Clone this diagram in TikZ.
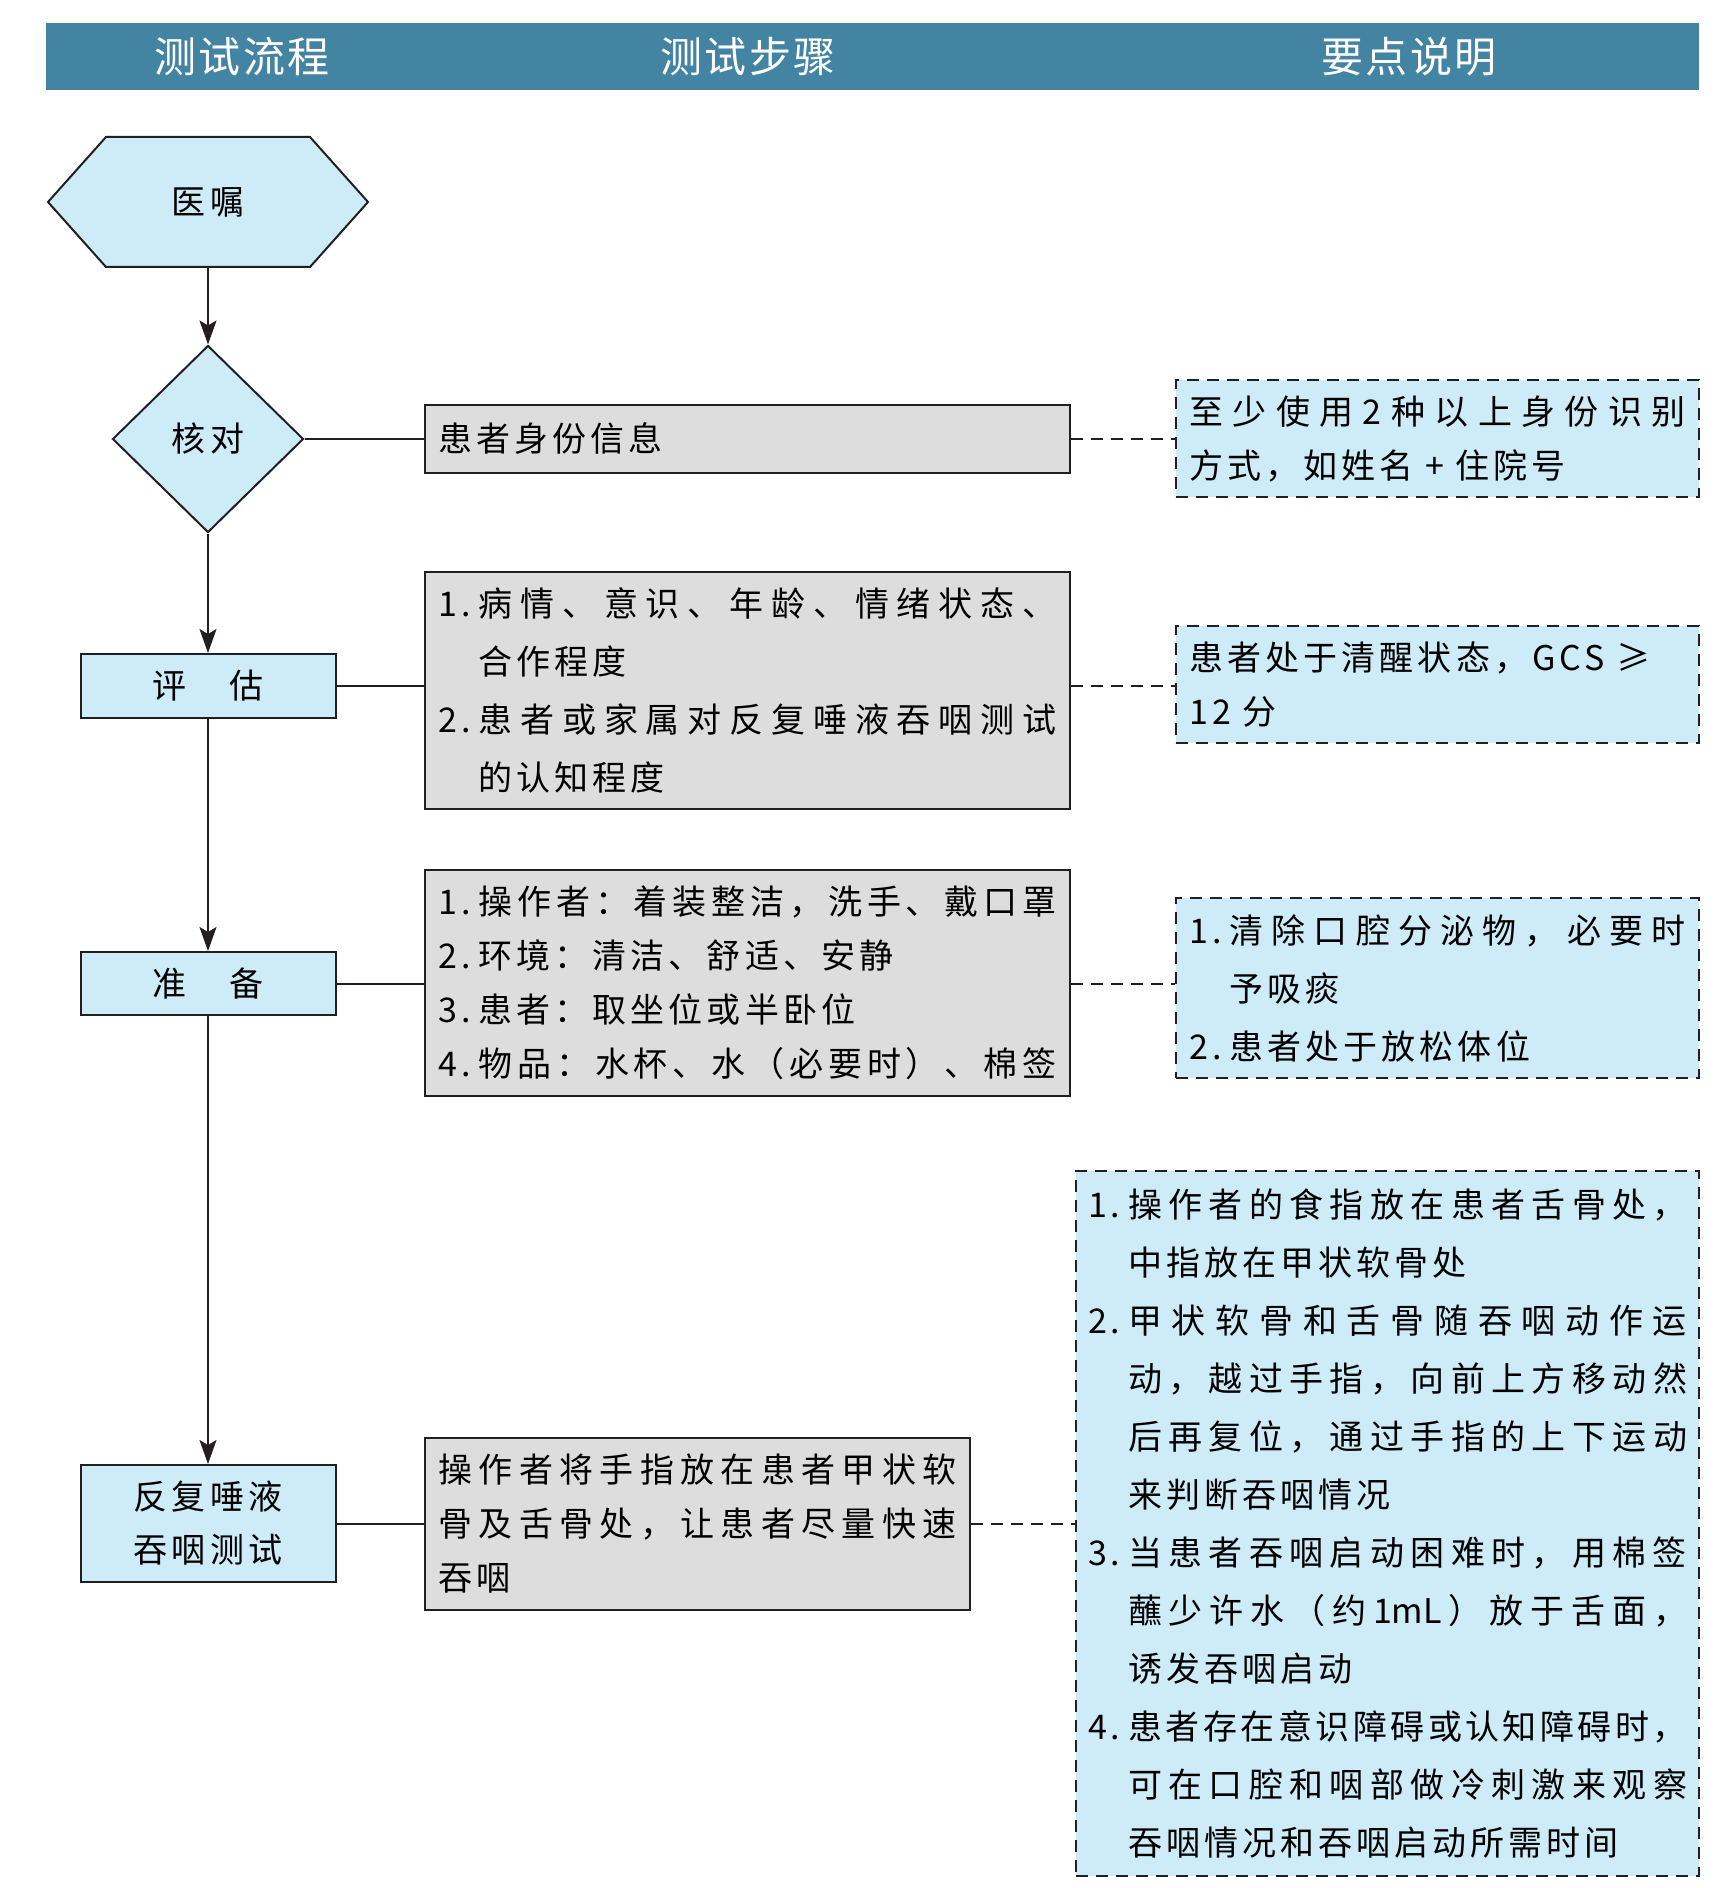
\documentclass[tikz,border=0pt]{standalone}
\usepackage{fontspec}
\setmainfont[LetterSpace=12]{Noto Sans CJK SC}
\usetikzlibrary{arrows.meta,positioning,backgrounds,shapes.geometric,calc}
\definecolor{hdr}{HTML}{4484A3}
\definecolor{lb}{HTML}{CDECF8}
\definecolor{gr}{HTML}{DDDDDD}
\definecolor{dk}{HTML}{231F20}
\newcommand{\txa}{\fontsize{17}{27}\selectfont}
\newcommand{\txb}{\fontsize{17}{29}\selectfont}
\newcommand{\xh}[1]{\makebox[20pt][l]{#1}}
\newcommand{\sj}{\hspace*{20pt}}
% justified lines: glue between the characters
\def\jzend{JZEND}
\def\jzi#1{\ifx#1\jzend\else#1\hskip0pt plus1fil\expandafter\jzi\fi}
\newcommand{\jz}[1]{\leavevmode\hbox to\hsize{\addfontfeature{LetterSpace=0}\jzi#1\jzend\unskip}}
\newcommand{\jzn}[1]{\hbox to\dimexpr\hsize-20pt\relax{\addfontfeature{LetterSpace=0}\jzi#1\jzend\unskip}}
\tikzset{
  flow/.style={draw=dk,line width=1pt,fill=lb,align=center,inner sep=0pt,font=\fontsize{17}{26.5}\selectfont},
  hexa/.style={draw=dk,line width=1pt,fill=lb},
  stepbox/.style={draw=dk,line width=1pt,fill=gr,anchor=west,align=left,inner xsep=6.75pt,inner ysep=0pt,font=\txa},
  notebox/.style={stepbox,fill=lb,dash pattern=on 6pt off 4pt},
  hdtxt/.style={text=white,font=\fontsize{21}{21}\selectfont\addfontfeature{LetterSpace=5}},
  ar/.style={-{Stealth[length=12pt,width=8.5pt,inset=2.5pt]},line width=1pt,draw=dk},
  cn/.style={line width=1pt,draw=dk},
  dl/.style={cn,dash pattern=on 6pt off 4pt},
}
\begin{document}
\begin{tikzpicture}[x=1pt,y=-1pt]
\useasboundingbox (0,0) rectangle (859,944);
% header
\fill[hdr] (23,11.5) rectangle (849.5,45);
\node[hdtxt] (h1) at (121,28.5) {测试流程};
\node[hdtxt] (h2) at (374,28.5) {测试步骤};
\node[hdtxt] (h3) at (704.5,28.5) {要点说明};

% flow column
\node[flow,draw=none,fill=none,minimum width=101pt,minimum height=64pt] (yz) at (104,101) {医嘱};
\begin{scope}[on background layer]
\draw[hexa] ([xshift=-29pt]yz.west) -- (yz.north west) -- (yz.north east) -- ([xshift=29pt]yz.east) -- (yz.south east) -- (yz.south west) -- cycle;
\end{scope}
\node[flow,diamond,minimum width=95.5pt,minimum height=93.5pt] (hd) at (104,219.5) {核对};
\node[flow,minimum width=127.5pt,minimum height=32pt] (pg) at (104,343) {评　估};
\node[flow,minimum width=127.5pt,minimum height=31.5pt] (zb) at (104,491.75) {准　备};
\node[flow,minimum width=127.5pt,minimum height=58.5pt] (cs) at (104,761.75) {反复唾液\\吞咽测试};

\draw[ar] (yz) -- (hd);
\draw[ar] (hd) -- (pg);
\draw[ar] (pg) -- (zb);
\draw[ar] (zb) -- (cs);

% steps
\node[stepbox,text width=309pt,minimum height=34pt] (s1) at (212,219.5) {患者身份信息};
\node[stepbox,text width=309pt,minimum height=118.5pt,font=\txb] (s2) at (212,345) {\xh{1.}\jzn{病情、意识、年龄、情绪状态、}\\\sj 合作程度\\\xh{2.}\jzn{患者或家属对反复唾液吞咽测试}\\\sj 的认知程度};
\node[stepbox,text width=309pt,minimum height=113pt] (s3) at (212,491.5) {\xh{1.}\jzn{操作者：着装整洁，洗手、戴口罩}\\\xh{2.}环境：清洁、舒适、安静\\\xh{3.}患者：取坐位或半卧位\\\xh{4.}\jzn{物品：水杯、水（必要时）、棉签}};
\node[stepbox,text width=259pt,minimum height=86pt] (s4) at (212,762) {\jz{操作者将手指放在患者甲状软}\\\jz{骨及舌骨处，让患者尽量快速}\\吞咽};

% notes
\node[notebox,text width=248pt,minimum height=58.5pt] (n1) at (587.5,219.25) {\jz{至少使用2种以上身份识别}\\方式，如姓名 + 住院号};
\node[notebox,text width=248pt,minimum height=58.5pt] (n2) at (587.5,342.25) {患者处于清醒状态，GCS ≥\\12 分};
\node[notebox,text width=248pt,minimum height=90pt,font=\txb] (n3) at (587.5,494) {\xh{1.}\jzn{清除口腔分泌物，必要时}\\\sj 予吸痰\\\xh{2.}患者处于放松体位};
\node[notebox,inner xsep=6pt,text width=299.5pt,minimum height=352.5pt,font=\txb] (n4) at (537.5,761.75) {\xh{1.}\jzn{操作者的食指放在患者舌骨处，}\\\sj 中指放在甲状软骨处\\\xh{2.}\jzn{甲状软骨和舌骨随吞咽动作运}\\\sj\jzn{动，越过手指，向前上方移动然}\\\sj\jzn{后再复位，通过手指的上下运动}\\\sj 来判断吞咽情况\\\xh{3.}\jzn{当患者吞咽启动困难时，用棉签}\\\sj\jzn{蘸少许水（约{1mL}）放于舌面，}\\\sj 诱发吞咽启动\\\xh{4.}\jzn{患者存在意识障碍或认知障碍时，}\\\sj\jzn{可在口腔和咽部做冷刺激来观察}\\\sj 吞咽情况和吞咽启动所需时间};

% connectors
\draw[cn] (hd) -- (s1);
\draw[dl] (s1.east) -- (s1.east -| n1.west);
\draw[cn] (pg.east) -- (pg.east -| s2.west);
\draw[dl] (pg.east -| s2.east) -- (pg.east -| n2.west);
\draw[cn] (zb.east) -- (zb.east -| s3.west);
\draw[dl] (zb.east -| s3.east) -- (zb.east -| n3.west);
\draw[cn] (cs.east) -- (cs.east -| s4.west);
\draw[dl] (cs.east -| s4.east) -- (cs.east -| n4.west);
\end{tikzpicture}
\end{document}
